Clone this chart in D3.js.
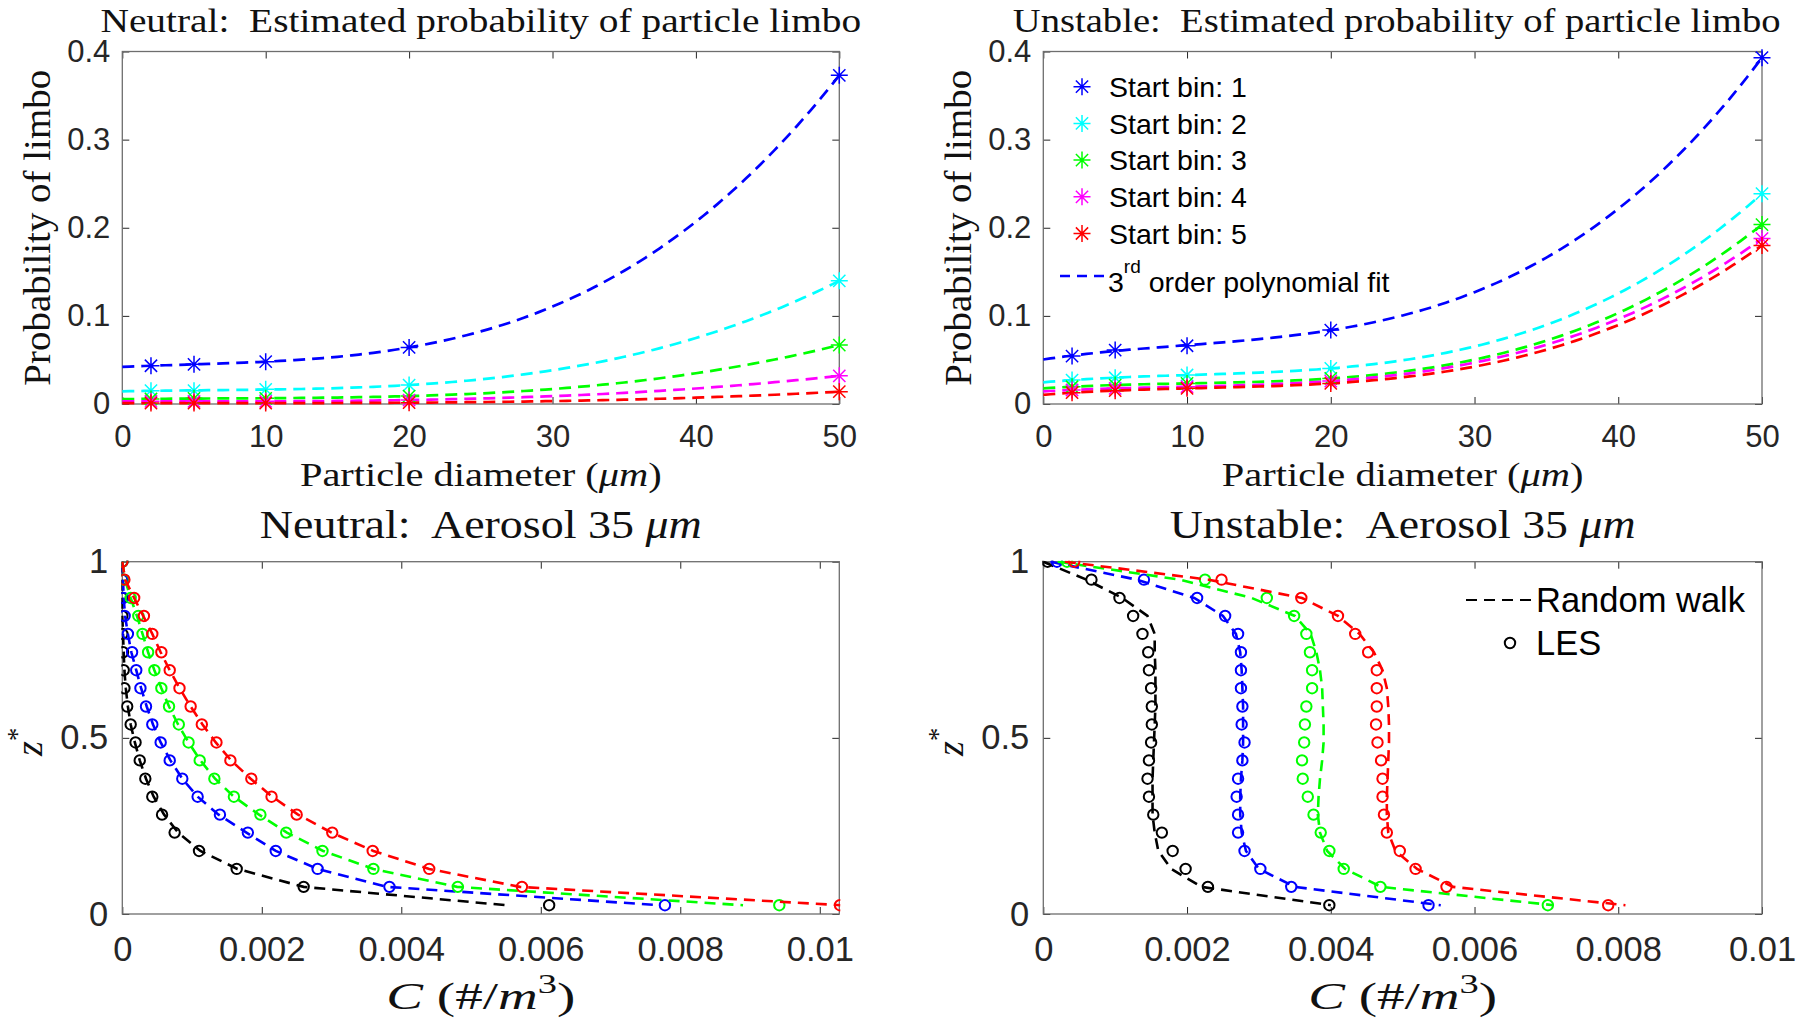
<!DOCTYPE html>
<html><head><meta charset="utf-8">
<script src="https://cdn.jsdelivr.net/npm/d3@7"></script>
<style>body{margin:0;background:#fff}</style>
</head><body>
<script>
// ---------------- DATA ----------------
const diameters = [2, 5, 10, 20, 50];
const binNames = ['Start bin: 1', 'Start bin: 2', 'Start bin: 3', 'Start bin: 4', 'Start bin: 5'];
const binColors = ['#0000ff', '#00ffff', '#00ff00', '#ff00ff', '#ff0000'];

const neutralBin1 = [0.0434, 0.0450, 0.0480, 0.0642, 0.373];
const neutralBin2 = [0.0151, 0.0151, 0.0166, 0.0215, 0.1398];
const neutralBin3 = [0.0057, 0.0064, 0.0064, 0.0090, 0.0669];
const neutralBin4 = [0.0030, 0.0030, 0.0030, 0.0045, 0.0320];
const neutralBin5 = [0.0010, 0.0010, 0.0010, 0.0015, 0.0140];

const unstableBin1 = [0.0544, 0.0612, 0.0661, 0.0839, 0.393];
const unstableBin2 = [0.0272, 0.0298, 0.0329, 0.0404, 0.2387];
const unstableBin3 = [0.0196, 0.0215, 0.0234, 0.0290, 0.2036];
const unstableBin4 = [0.0159, 0.0178, 0.0196, 0.0260, 0.1877];
const unstableBin5 = [0.0128, 0.0151, 0.0178, 0.0234, 0.1800];

const topXTicks = [0, 10, 20, 30, 40, 50];
const topYTicks = [0, 0.1, 0.2, 0.3, 0.4];
const botXTicks = [0, 0.002, 0.004, 0.006, 0.008, 0.01];
const botYTicks = [0, 0.5, 1];

const zLevels = [1, 0.949, 0.897, 0.846, 0.795, 0.743, 0.692, 0.641, 0.589, 0.538,
                 0.487, 0.436, 0.384, 0.333, 0.282, 0.231, 0.179, 0.128, 0.077, 0.025];
const profileColors = ['#000000', '#0000ff', '#00ff00', '#ff0000'];

// Neutral, LES (circles)
const neutralLesBlack = [0, 0, 0, 0, 0, 0.00001, 0.00002, 0.00003, 0.00007, 0.00012, 0.00019, 0.00025, 0.00033, 0.00043, 0.00057, 0.00075, 0.0011, 0.00164, 0.0026, 0.00612];
const neutralLesBlue  = [0, 0, 0.000016, 0.000033, 0.00008, 0.00014, 0.0002, 0.00026, 0.00034, 0.00043, 0.00055, 0.00068, 0.00086, 0.00108, 0.0014, 0.0018, 0.0022, 0.0028, 0.00383, 0.00778];
const neutralLesGreen = [0, 0.00002, 0.00012, 0.00023, 0.00029, 0.00037, 0.00046, 0.00056, 0.00067, 0.00081, 0.00095, 0.00111, 0.00132, 0.0016, 0.00198, 0.00235, 0.00287, 0.0036, 0.00481, 0.00942];
const neutralLesRed   = [0, 0.00003, 0.00017, 0.00031, 0.00043, 0.00056, 0.00068, 0.00082, 0.00098, 0.00114, 0.00135, 0.00155, 0.00185, 0.00214, 0.0025, 0.00301, 0.00359, 0.0044, 0.00573, 0.01029];
// Neutral, random walk (dashed)
const neutralRwBlack = [0, 0, 0, 0, 0.00001, 0.00002, 0.00003, 0.00005, 0.00008, 0.00012, 0.00018, 0.00025, 0.00034, 0.00045, 0.0006, 0.0008, 0.00112, 0.00165, 0.0026, 0.0055];
const neutralRwBlue  = [0, 0.00001, 0.00002, 0.00004, 0.00008, 0.00013, 0.0002, 0.00027, 0.00035, 0.00044, 0.00055, 0.00069, 0.00086, 0.00108, 0.00138, 0.00178, 0.0022, 0.0028, 0.0038, 0.0077];
const neutralRwGreen = [0, 0.00004, 0.00012, 0.00021, 0.00029, 0.00037, 0.00046, 0.00056, 0.00067, 0.0008, 0.00095, 0.00112, 0.00133, 0.0016, 0.00196, 0.00236, 0.00288, 0.0036, 0.0048, 0.0089];
const neutralRwRed   = [0, 0.00004, 0.00017, 0.0003, 0.00043, 0.00055, 0.00068, 0.00082, 0.00098, 0.00115, 0.00134, 0.00156, 0.00184, 0.00215, 0.00252, 0.003, 0.0036, 0.0044, 0.0057, 0.0103];

// Unstable, LES (circles)
const unstableLesBlack = [0.00006, 0.00067, 0.00106, 0.00125, 0.00138, 0.00146, 0.00147, 0.0015, 0.00151, 0.00151, 0.0015, 0.00147, 0.00145, 0.00147, 0.00153, 0.00165, 0.0018, 0.00198, 0.00229, 0.00398];
const unstableLesBlue  = [0.00019, 0.0014, 0.00214, 0.00253, 0.00271, 0.00275, 0.00275, 0.00275, 0.00277, 0.00276, 0.0028, 0.00277, 0.00271, 0.00269, 0.00271, 0.00271, 0.0028, 0.00302, 0.00345, 0.00536];
const unstableLesGreen = [0.00033, 0.00225, 0.00311, 0.00349, 0.00366, 0.00371, 0.00374, 0.00374, 0.00366, 0.00364, 0.00363, 0.0036, 0.00361, 0.00368, 0.00376, 0.00386, 0.00398, 0.00418, 0.00469, 0.00702];
const unstableLesRed   = [0.00043, 0.00248, 0.00359, 0.0041, 0.00434, 0.00452, 0.00464, 0.00464, 0.00464, 0.00463, 0.00465, 0.0047, 0.00472, 0.00472, 0.00474, 0.00478, 0.00496, 0.00518, 0.00561, 0.00786];
// Unstable, random walk (dashed)
const unstableRwBlack = [0, 0.0006, 0.0011, 0.00145, 0.00155, 0.00155, 0.00156, 0.00156, 0.00156, 0.00155, 0.00154, 0.00153, 0.00152, 0.00152, 0.00152, 0.00155, 0.0016, 0.00178, 0.0022, 0.004];
const unstableRwBlue  = [0.0001, 0.0013, 0.0021, 0.0025, 0.00268, 0.00274, 0.00276, 0.00277, 0.00278, 0.00278, 0.00278, 0.00277, 0.00275, 0.00274, 0.00274, 0.00276, 0.00282, 0.003, 0.0035, 0.00553];
const unstableRwGreen = [0.0002, 0.0019, 0.0029, 0.0035, 0.00372, 0.0038, 0.00385, 0.00388, 0.00389, 0.0039, 0.0039, 0.00388, 0.00385, 0.00383, 0.00382, 0.00385, 0.00395, 0.0042, 0.0047, 0.0071];
const unstableRwRed   = [0.0003, 0.0023, 0.0036, 0.0041, 0.0044, 0.0046, 0.00472, 0.00478, 0.0048, 0.00481, 0.00481, 0.0048, 0.00479, 0.00478, 0.00478, 0.0048, 0.0049, 0.0052, 0.0057, 0.0081];

// ---------------- STYLE / LAYOUT ----------------
const W = 1800, H = 1029;
const SANS = "'Liberation Sans', Arial, Helvetica, sans-serif";
const SERIF = "'Liberation Serif', 'Times New Roman', serif";
const TICKC = '#262626';

const svg = d3.select('body').append('svg')
  .attr('width', W).attr('height', H)
  .style('background', '#fff');

const panels = {
  tl: {x0: 122.3, x1: 839.3, y0: 51.5, y1: 404},
  tr: {x0: 1043.3, x1: 1762, y0: 51.5, y1: 404},
  bl: {x0: 122.3, x1: 839.3, y0: 561.7, y1: 914},
  br: {x0: 1043.3, x1: 1762, y0: 561.7, y1: 914}
};

function serifLabel(parent, o) {
  const g = parent.append('g')
    .attr('transform', `translate(${o.x},${o.y})` + (o.rotate ? ' rotate(-90)' : ''));
  const t = g.append('text').attr('text-anchor', 'middle')
    .attr('font-family', SERIF).attr('font-size', o.size).attr('fill', '#111');
  let shift = 0;
  o.parts.forEach(p => {
    const ts = t.append('tspan').text(p.t);
    if (p.i) ts.attr('font-style', 'italic');
    const want = p.sup ? -o.size * 0.42 : 0;
    if (want !== shift) { ts.attr('dy', want - shift); shift = want; }
    if (p.sup) ts.attr('font-size', o.size * 0.7);
  });
  let s = o.scale || 1;
  if (o.width) s = o.width / t.node().getComputedTextLength();
  t.attr('transform', `scale(${s},1)`);
  return s;
}

function makeAxes(p, xDom, yDom, xTicks, yTicks, fs, xPad, yPad) {
  const x = d3.scaleLinear(xDom, [p.x0, p.x1]);
  const y = d3.scaleLinear(yDom, [p.y1, p.y0]);
  const g = svg.append('g');
  const fmt = d3.format('~g');
  const style = sel => {
    sel.select('.domain').remove();
    sel.selectAll('.tick line').attr('stroke', TICKC).attr('stroke-width', 1);
    sel.selectAll('.tick text').attr('fill', TICKC).attr('font-family', SANS).attr('font-size', fs);
  };
  g.append('g').attr('transform', `translate(0,${p.y1})`)
    .call(d3.axisBottom(x).tickValues(xTicks).tickFormat(fmt).tickSize(-7).tickPadding(xPad)).call(style);
  g.append('g').attr('transform', `translate(0,${p.y0})`)
    .call(d3.axisTop(x).tickValues(xTicks).tickFormat('').tickSize(-7)).call(style);
  g.append('g').attr('transform', `translate(${p.x0},0)`)
    .call(d3.axisLeft(y).tickValues(yTicks).tickFormat(fmt).tickSize(-7).tickPadding(yPad)).call(style);
  g.append('g').attr('transform', `translate(${p.x1},0)`)
    .call(d3.axisRight(y).tickValues(yTicks).tickFormat('').tickSize(-7)).call(style);
  g.append('rect').attr('x', p.x0).attr('y', p.y0)
    .attr('width', p.x1 - p.x0).attr('height', p.y1 - p.y0)
    .attr('fill', 'none').attr('stroke', '#6e6e6e').attr('stroke-width', 1.3);
  const id = 'clip' + Math.round(p.x0) + '_' + Math.round(p.y0);
  svg.append('clipPath').attr('id', id).append('rect')
    .attr('x', p.x0 - 1).attr('y', p.y0 - 1).attr('width', p.x1 - p.x0 + 2).attr('height', p.y1 - p.y0 + 2);
  const plot = svg.append('g').attr('clip-path', `url(#${id})`);
  const marks = svg.append('g');
  return {x, y, plot, marks};
}

function starPath(r) {
  const d = r * 0.72;
  return `M0,${-r}V${r}M${-r},0H${r}M${-d},${-d}L${d},${d}M${-d},${d}L${d},${-d}`;
}

function polyfit3(xs, ys) {
  const n = 4, A = [], b = [];
  for (let j = 0; j < n; j++) { A.push(new Array(n).fill(0)); b.push(0); }
  xs.forEach((xv, i) => {
    for (let j = 0; j < n; j++) {
      b[j] += ys[i] * Math.pow(xv, j);
      for (let k = 0; k < n; k++) A[j][k] += Math.pow(xv, j + k);
    }
  });
  for (let c = 0; c < n; c++) {
    let piv = c;
    for (let r = c + 1; r < n; r++) if (Math.abs(A[r][c]) > Math.abs(A[piv][c])) piv = r;
    [A[c], A[piv]] = [A[piv], A[c]]; [b[c], b[piv]] = [b[piv], b[c]];
    for (let r = c + 1; r < n; r++) {
      const f = A[r][c] / A[c][c];
      for (let k = c; k < n; k++) A[r][k] -= f * A[c][k];
      b[r] -= f * b[c];
    }
  }
  const coef = new Array(n).fill(0);
  for (let r = n - 1; r >= 0; r--) {
    let s = b[r];
    for (let k = r + 1; k < n; k++) s -= A[r][k] * coef[k];
    coef[r] = s / A[r][r];
  }
  return xv => coef.reduce((acc, c, j) => acc + c * Math.pow(xv, j), 0);
}

// ---------------- TOP PANELS ----------------
function topPanel(p, bins, titleWord, titleW, titleDx) {
  const ax = makeAxes(p, [0, 50], [0, 0.4], topXTicks, topYTicks, 31, 21, 12);
  const cx = (p.x0 + p.x1) / 2, cy = (p.y0 + p.y1) / 2;
  bins.forEach((vals, bi) => {
    const f = polyfit3(diameters, vals);
    const fitPts = d3.range(0, 50.0001, 0.5).map(d => [d, f(d)]);
    ax.plot.append('path').datum(fitPts)
      .attr('d', d3.line().x(d => ax.x(d[0])).y(d => ax.y(d[1])))
      .attr('fill', 'none').attr('stroke', binColors[bi]).attr('stroke-width', 2.7)
      .attr('stroke-dasharray', '12,7');
  });
  bins.forEach((vals, bi) => {
    ax.marks.selectAll(null).data(diameters.map((d, i) => [d, vals[i]])).enter()
      .append('path').attr('d', starPath(8.5))
      .attr('transform', d => `translate(${ax.x(d[0])},${ax.y(d[1])})`)
      .attr('fill', 'none').attr('stroke', binColors[bi]).attr('stroke-width', 1.5);
  });
  serifLabel(svg, {x: cx + titleDx, y: 31.7, size: 34,
    parts: [{t: titleWord + ':\u00a0 Estimated probability of particle limbo'}], width: titleW});
  serifLabel(svg, {x: cx, y: 486, size: 34.5,
    parts: [{t: 'Particle diameter ('}, {t: '\u03bcm', i: true}, {t: ')'}], width: 362});
  serifLabel(svg, {x: p.x0 - 72.5, y: cy, rotate: true, size: 37.5,
    parts: [{t: 'Probability of limbo'}], width: 316});
  return ax;
}

topPanel(panels.tl, [neutralBin1, neutralBin2, neutralBin3, neutralBin4, neutralBin5], 'Neutral', 761, 0);
topPanel(panels.tr, [unstableBin1, unstableBin2, unstableBin3, unstableBin4, unstableBin5], 'Unstable', 768, -6);

// legend (top-right)
const lg = svg.append('g');
binNames.forEach((nm, i) => {
  const yy = 86.7 + i * 36.7;
  lg.append('path').attr('d', starPath(8.5)).attr('transform', `translate(1082,${yy})`)
    .attr('fill', 'none').attr('stroke', binColors[i]).attr('stroke-width', 1.5);
  lg.append('text').attr('x', 1109).attr('y', yy + 10.2).attr('font-family', SANS)
    .attr('font-size', 28.5).attr('fill', '#000').text(nm);
});
lg.append('line').attr('x1', 1060).attr('x2', 1106).attr('y1', 276).attr('y2', 276)
  .attr('stroke', binColors[0]).attr('stroke-width', 2.7).attr('stroke-dasharray', '10,7');
const fitTxt = lg.append('text').attr('x', 1108).attr('y', 292).attr('font-family', SANS)
  .attr('font-size', 28.5).attr('fill', '#000');
fitTxt.append('tspan').text('3');
fitTxt.append('tspan').attr('font-size', 19).attr('dy', -19).text('rd');
fitTxt.append('tspan').attr('dy', 19).text(' order polynomial fit');

// ---------------- BOTTOM PANELS ----------------
function bottomPanel(p, xMax, les, rw, titleWord, titleW) {
  const ax = makeAxes(p, [0, xMax], [0, 1], botXTicks, botYTicks, 34.5, 23, 14);
  const cx = (p.x0 + p.x1) / 2, cy = (p.y0 + p.y1) / 2;
  les.forEach((vals, si) => {
    ax.plot.selectAll(null).data(vals.map((v, i) => [v, zLevels[i]])).enter()
      .append('circle').attr('cx', d => ax.x(d[0])).attr('cy', d => ax.y(d[1])).attr('r', 5.2)
      .attr('fill', 'none').attr('stroke', profileColors[si]).attr('stroke-width', 2);
    ax.plot.append('path').datum(rw[si].map((v, i) => [v, zLevels[i]]))
      .attr('d', d3.line().x(d => ax.x(d[0])).y(d => ax.y(d[1])))
      .attr('fill', 'none').attr('stroke', profileColors[si]).attr('stroke-width', 2.6)
      .attr('stroke-dasharray', '11,7');
  });
  serifLabel(svg, {x: cx, y: 538, size: 39.5,
    parts: [{t: titleWord + ':\u00a0 Aerosol 35 '}, {t: '\u03bcm', i: true}], width: titleW});
  serifLabel(svg, {x: cx, y: 1009, size: 38,
    parts: [{t: 'C', i: true}, {t: ' (#/'}, {t: 'm', i: true}, {t: '3', sup: true}, {t: ')'}],
    width: 189});
  serifLabel(svg, {x: p.x0 - 80, y: cy + 4, rotate: true, size: 38,
    parts: [{t: 'z', i: true}, {t: '*', sup: true}]});
  return ax;
}

bottomPanel(panels.bl, 0.01028,
  [neutralLesBlack, neutralLesBlue, neutralLesGreen, neutralLesRed],
  [neutralRwBlack, neutralRwBlue, neutralRwGreen, neutralRwRed], 'Neutral', 442);
bottomPanel(panels.br, 0.01,
  [unstableLesBlack, unstableLesBlue, unstableLesGreen, unstableLesRed],
  [unstableRwBlack, unstableRwBlue, unstableRwGreen, unstableRwRed], 'Unstable', 466);

// legend (bottom-right)
const lg2 = svg.append('g');
lg2.append('line').attr('x1', 1466).attr('x2', 1533).attr('y1', 600).attr('y2', 600)
  .attr('stroke', '#000').attr('stroke-width', 2.2).attr('stroke-dasharray', '11,7');
lg2.append('text').attr('x', 1536).attr('y', 612).attr('font-family', SANS)
  .attr('font-size', 34.5).attr('fill', '#000').text('Random walk');
lg2.append('circle').attr('cx', 1510).attr('cy', 643).attr('r', 5.2)
  .attr('fill', 'none').attr('stroke', '#000').attr('stroke-width', 2);
lg2.append('text').attr('x', 1536).attr('y', 655).attr('font-family', SANS)
  .attr('font-size', 34.5).attr('fill', '#000').text('LES');
</script>
</body></html>
